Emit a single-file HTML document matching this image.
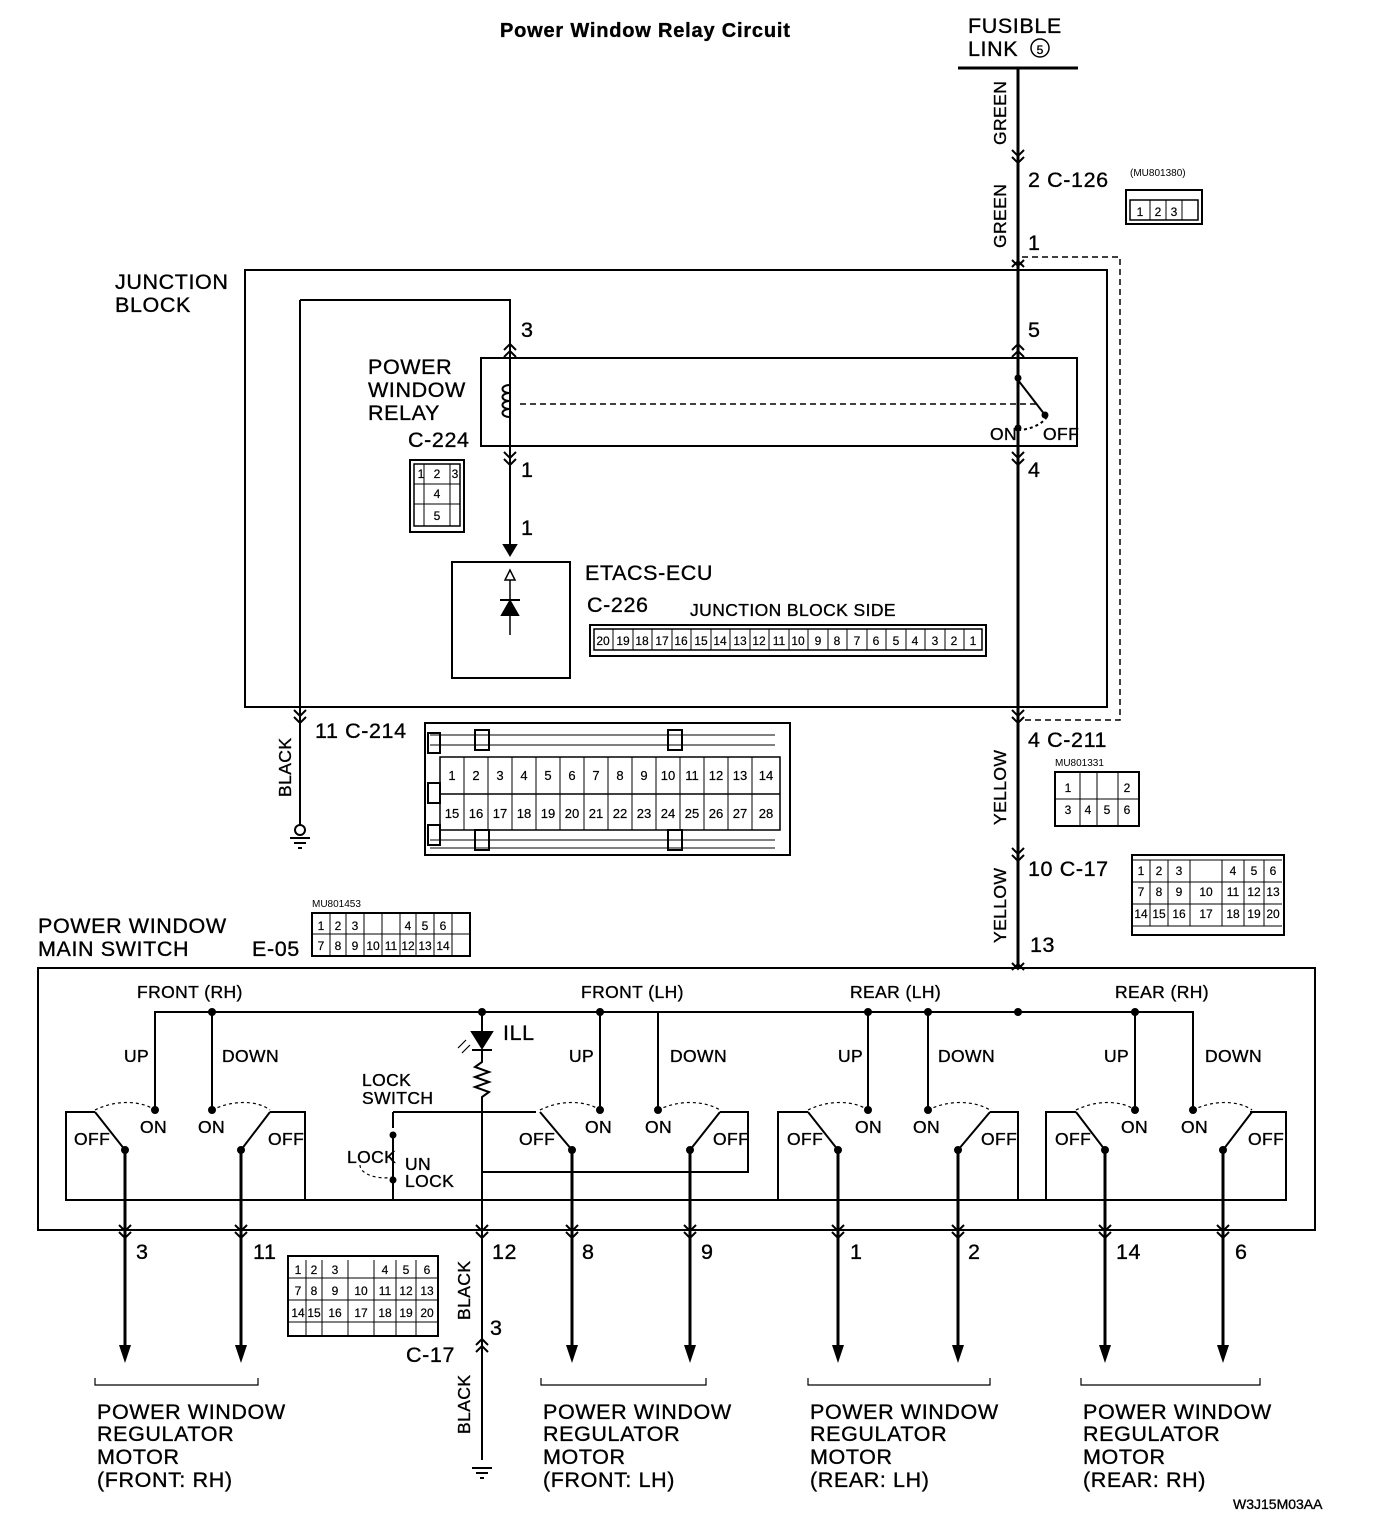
<!DOCTYPE html>
<html><head><meta charset="utf-8"><style>
body{margin:0;background:#fff}
svg{display:block}
text{font-family:"Liberation Sans",sans-serif;fill:#000;stroke:#000;stroke-width:0.35}
.l{font-size:21.5px;letter-spacing:0.6px}
.s{font-size:17.5px;letter-spacing:0.4px}
.xs{font-size:12px}
.c{font-size:12px;text-anchor:middle;stroke-width:0.2}
</style></head><body>
<svg width="1376" height="1536" viewBox="0 0 1376 1536" xmlns="http://www.w3.org/2000/svg">
<g stroke="#000" fill="none" stroke-width="2">
<line x1="958" y1="68" x2="1078" y2="68" stroke-width="3"/>
<circle cx="1040" cy="48" r="9" stroke-width="1.5"/>
<line x1="1018" y1="68" x2="1018" y2="968" stroke-width="3"/>
<path d="M1012 150l6 6 6-6M1012 157l6 6 6-6M1012 260l6 6 6-6M1012 267l6 -6 6 6M1012 350l6-6 6 6M1012 357l6-6 6 6M1012 452l6 6 6-6M1012 459l6 6 6-6M1012 710l6 6 6-6M1012 717l6 6 6-6M1012 848l6 6 6-6M1012 855l6 6 6-6M1012 963l6 6 6-6M1012 970l6 -6 6 6"/>
<path d="M1022 257H1120V720H1022" stroke-dasharray="6 4" stroke-width="1.5"/>
<rect x="245" y="270" width="862" height="437"/>
<path d="M300 300H510V555"/>
<path d="M504 545l6 10 6-10z" fill="#000"/>
<line x1="300" y1="300" x2="300" y2="826"/>
<path d="M504 350l6-6 6 6M504 357l6-6 6 6M504 452l6 6 6-6M504 459l6 6 6-6M294 710l6 6 6-6M294 717l6 6 6-6"/>
<rect x="481" y="358" width="596" height="88"/>
<path d="M510 385c-10 0-10 8 0 8c-10 0-10 8 0 8c-10 0-10 8 0 8c-10 0-10 8 0 8"/>
<line x1="520" y1="404" x2="1040" y2="404" stroke-dasharray="6 4" stroke-width="1.5"/>
<path d="M1018 380L1045 415"/>
<path d="M1018 430c10 0 25-5 30-15" stroke-dasharray="3 3"/>
<circle cx="1018" cy="378" r="2.5" fill="#000"/><circle cx="1045" cy="415" r="2.5" fill="#000"/><circle cx="1018" cy="428" r="2.5" fill="#000"/>
<rect x="452" y="562" width="118" height="116"/>
<path d="M510 570l-5 10h10z" stroke-width="1.5"/>
<line x1="510" y1="580" x2="510" y2="635" stroke-width="1.5"/>
<path d="M502 615h16l-8-14z" fill="#000"/>
<line x1="500" y1="600" x2="520" y2="600"/>
<circle cx="300" cy="830" r="5"/>
<path d="M290 838h20M294 843h12M298 848h4"/>
<rect x="590" y="625" width="396" height="31"/>
<rect x="594" y="629" width="388" height="21" stroke-width="1.5"/>
<rect x="425" y="723" width="365" height="132"/>
<rect x="440" y="757" width="340" height="73" stroke-width="1.5"/>
<path d="M440 794H780" stroke-width="1.5"/>
<path d="M430 735H775M430 745H775M430 840H775M430 848H775" stroke-width="1"/>
<rect x="428" y="733" width="12" height="20"/><rect x="428" y="783" width="12" height="20"/><rect x="428" y="825" width="12" height="20"/>
<rect x="475" y="730" width="14" height="20"/><rect x="668" y="730" width="14" height="20"/><rect x="475" y="830" width="14" height="20"/><rect x="668" y="830" width="14" height="20"/>
<rect x="1126" y="190" width="76" height="34"/><rect x="1130" y="200" width="68" height="20" stroke-width="1.5"/>
<rect x="410" y="460" width="54" height="72"/><rect x="414" y="464" width="46" height="62" stroke-width="1.5"/>
<rect x="1055" y="772" width="84" height="54"/>
<rect x="1132" y="855" width="152" height="80"/>
<rect x="312" y="913" width="158" height="43"/>
<rect x="288" y="1256" width="150" height="80"/>
<rect x="38" y="968" width="1277" height="262"/>
<path d="M155 1110V1012H1193V1110M212 1012V1110M600 1012V1110M658 1012V1110M868 1012V1110M928 1012V1110M1135 1012V1110"/>
<g fill="#000"><circle cx="212" cy="1012" r="3"/><circle cx="482" cy="1012" r="3"/><circle cx="600" cy="1012" r="3"/><circle cx="868" cy="1012" r="3"/><circle cx="928" cy="1012" r="3"/><circle cx="1018" cy="1012" r="3"/><circle cx="1135" cy="1012" r="3"/></g>
<path d="M95 1112H66V1200H1286V1112H1250M270 1112H305V1200M482 1112H536M720 1112H748V1172H482M808 1112H778V1200M990 1112H1018V1200M1076 1112H1046V1200M1250 1112H1286"/>
<g>
<path d="M125 1150L95 1112M241 1150L270 1112M572 1150L540 1112M690 1150L720 1112M838 1150L808 1112M958 1150L990 1112M1105 1150L1076 1112M1223 1150L1252 1112"/>
<path d="M95 1110c20-10 45-10 60 0M212 1110c20-10 45-10 58 0M540 1110c20-10 45-10 60 0M658 1110c20-10 45-10 62 0M808 1110c20-10 45-10 60 0M928 1110c20-10 45-10 62 0M1076 1110c20-10 45-10 59 0M1193 1110c20-10 45-10 59 0" stroke-dasharray="3 3" stroke-width="1.2"/>
</g>
<g fill="#000"><circle cx="155" cy="1110" r="3"/><circle cx="212" cy="1110" r="3"/><circle cx="600" cy="1110" r="3"/><circle cx="658" cy="1110" r="3"/><circle cx="868" cy="1110" r="3"/><circle cx="928" cy="1110" r="3"/><circle cx="1135" cy="1110" r="3"/><circle cx="1193" cy="1110" r="3"/>
<circle cx="125" cy="1150" r="3"/><circle cx="241" cy="1150" r="3"/><circle cx="572" cy="1150" r="3"/><circle cx="690" cy="1150" r="3"/><circle cx="838" cy="1150" r="3"/><circle cx="958" cy="1150" r="3"/><circle cx="1105" cy="1150" r="3"/><circle cx="1223" cy="1150" r="3"/></g>
<path d="M125 1150V1350M241 1150V1350M572 1150V1350M690 1150V1350M838 1150V1350M958 1150V1350M1105 1150V1350M1223 1150V1350" stroke-width="3"/>
<g fill="#000" stroke="none"><path d="M119 1345l6 18 6-18zM235 1345l6 18 6-18zM566 1345l6 18 6-18zM684 1345l6 18 6-18zM832 1345l6 18 6-18zM952 1345l6 18 6-18zM1099 1345l6 18 6-18zM1217 1345l6 18 6-18z"/></g>
<path d="M119 1225l6 6 6-6M119 1232l6 6 6-6M235 1225l6 6 6-6M235 1232l6 6 6-6M566 1225l6 6 6-6M566 1232l6 6 6-6M684 1225l6 6 6-6M684 1232l6 6 6-6M832 1225l6 6 6-6M832 1232l6 6 6-6M952 1225l6 6 6-6M952 1232l6 6 6-6M1099 1225l6 6 6-6M1099 1232l6 6 6-6M1217 1225l6 6 6-6M1217 1232l6 6 6-6M476 1225l6 6 6-6M476 1232l6 6 6-6M476 1345l6-6 6 6M476 1352l6-6 6 6"/>
<path d="M482 1012V1032M482 1050V1062l-7 5 14 5-14 5 14 5-14 5 14 5-7 5V1460"/>
<path d="M472 1032h20l-10 16z" fill="#000"/><line x1="472" y1="1050" x2="492" y2="1050"/>
<path d="M470 1045l-8 8M466 1040l-8 8" stroke-width="1.2"/>
<path d="M393 1112H482M393 1112V1128M393 1170V1200"/>
<path d="M393 1180L393 1135" stroke-width="2"/>
<path d="M360 1165c0 10 20 15 33 12" stroke-dasharray="3 3" stroke-width="1.2"/>
<circle cx="393" cy="1135" r="2.5" fill="#000"/><circle cx="393" cy="1180" r="2.5" fill="#000"/>
<path d="M472 1468h20M476 1473h12M480 1478h4"/>
<path d="M95 1378v7H258v-7M541 1378v7H706v-7M808 1378v7H990v-7M1081 1378v7H1260v-7" stroke-width="1.2"/>
</g>
<g stroke="#000" stroke-width="1" fill="none">
<path d="M613 629v21M633 629v21M652 629v21M672 629v21M691 629v21M711 629v21M730 629v21M750 629v21M769 629v21M789 629v21M808 629v21M828 629v21M847 629v21M867 629v21M886 629v21M906 629v21M925 629v21M945 629v21M964 629v21"/>
<path d="M464 757v73M488 757v73M512 757v73M536 757v73M560 757v73M584 757v73M608 757v73M632 757v73M656 757v73M680 757v73M704 757v73M728 757v73M752 757v73"/>
<path d="M1150 200v20M1166 200v20M1182 200v20M414 484h46M414 504h46M424 464v62M450 464v62"/>
<path d="M1055 799h84M1080 772v54M1097 772v54M1118 772v54M1132 860h150M1132 882h150M1132 904h150M1132 926h150M1150 860v66M1168 860v66M1190 860v66M1222 860v66M1244 860v66M1264 860v66"/>
<path d="M312 934h158M330 913v43M346 913v43M364 913v43M382 913v43M400 913v43M416 913v43M434 913v43M452 913v43"/>
<path d="M288 1278h150M288 1300h150M288 1322h150M306 1260v76M322 1260v76M348 1260v76M374 1260v76M396 1260v76M416 1260v76"/>
</g>
<text x="500" y="37" style="font-size:20px;font-weight:bold;letter-spacing:0.8px">Power Window Relay Circuit</text>
<text x="968" y="33" class="l">FUSIBLE</text>
<text x="968" y="56" class="l">LINK</text>
<text x="1040" y="54" class="xs" text-anchor="middle">5</text>
<text transform="translate(1006,145) rotate(-90)" class="s">GREEN</text>
<text transform="translate(1006,248) rotate(-90)" class="s">GREEN</text>
<text x="1028" y="187" class="l">2  C-126</text>
<text x="1130" y="176" style="font-size:10px;stroke-width:0">(MU801380)</text>
<text x="1140" y="216" class="c">1</text><text x="1158" y="216" class="c">2</text><text x="1174" y="216" class="c">3</text>
<text x="1028" y="250" class="l">1</text>
<text x="115" y="289" class="l">JUNCTION</text><text x="115" y="312" class="l">BLOCK</text>
<text x="521" y="337" class="l">3</text><text x="1028" y="337" class="l">5</text>
<text x="368" y="374" class="l">POWER</text><text x="368" y="397" class="l">WINDOW</text><text x="368" y="420" class="l">RELAY</text>
<text x="408" y="447" class="l">C-224</text>
<text x="990" y="440" class="s">ON</text><text x="1043" y="440" class="s">OFF</text>
<text x="421" y="478" class="c">1</text><text x="437" y="478" class="c">2</text><text x="455" y="478" class="c">3</text>
<text x="437" y="498" class="c">4</text><text x="437" y="520" class="c">5</text>
<text x="521" y="477" class="l">1</text><text x="1028" y="477" class="l">4</text><text x="521" y="535" class="l">1</text>
<text x="585" y="580" class="l">ETACS-ECU</text>
<text x="587" y="612" class="l">C-226</text>
<text x="690" y="616" class="s">JUNCTION BLOCK SIDE</text>
<text y="645" class="c"><tspan x="603">20</tspan><tspan x="623">19</tspan><tspan x="642">18</tspan><tspan x="662">17</tspan><tspan x="681">16</tspan><tspan x="701">15</tspan><tspan x="720">14</tspan><tspan x="740">13</tspan><tspan x="759">12</tspan><tspan x="779">11</tspan><tspan x="798">10</tspan><tspan x="818">9</tspan><tspan x="837">8</tspan><tspan x="857">7</tspan><tspan x="876">6</tspan><tspan x="896">5</tspan><tspan x="915">4</tspan><tspan x="935">3</tspan><tspan x="954">2</tspan><tspan x="973">1</tspan></text>
<text x="315" y="738" class="l">11  C-214</text>
<text transform="translate(291,797) rotate(-90)" class="s">BLACK</text>
<text y="780" class="c" style="font-size:13px"><tspan x="452">1</tspan><tspan x="476">2</tspan><tspan x="500">3</tspan><tspan x="524">4</tspan><tspan x="548">5</tspan><tspan x="572">6</tspan><tspan x="596">7</tspan><tspan x="620">8</tspan><tspan x="644">9</tspan><tspan x="668">10</tspan><tspan x="692">11</tspan><tspan x="716">12</tspan><tspan x="740">13</tspan><tspan x="766">14</tspan></text>
<text y="818" class="c" style="font-size:13px"><tspan x="452">15</tspan><tspan x="476">16</tspan><tspan x="500">17</tspan><tspan x="524">18</tspan><tspan x="548">19</tspan><tspan x="572">20</tspan><tspan x="596">21</tspan><tspan x="620">22</tspan><tspan x="644">23</tspan><tspan x="668">24</tspan><tspan x="692">25</tspan><tspan x="716">26</tspan><tspan x="740">27</tspan><tspan x="766">28</tspan></text>
<text x="1028" y="747" class="l">4  C-211</text>
<text x="1055" y="766" style="font-size:10px;stroke-width:0">MU801331</text>
<text y="792" class="c"><tspan x="1068">1</tspan><tspan x="1127">2</tspan></text>
<text y="814" class="c"><tspan x="1068">3</tspan><tspan x="1088">4</tspan><tspan x="1107">5</tspan><tspan x="1127">6</tspan></text>
<text transform="translate(1006,825) rotate(-90)" class="s">YELLOW</text>
<text transform="translate(1006,943) rotate(-90)" class="s">YELLOW</text>
<text x="1028" y="876" class="l">10  C-17</text>
<text y="875" class="c"><tspan x="1141">1</tspan><tspan x="1159">2</tspan><tspan x="1179">3</tspan><tspan x="1233">4</tspan><tspan x="1254">5</tspan><tspan x="1273">6</tspan></text>
<text y="896" class="c"><tspan x="1141">7</tspan><tspan x="1159">8</tspan><tspan x="1179">9</tspan><tspan x="1206">10</tspan><tspan x="1233">11</tspan><tspan x="1254">12</tspan><tspan x="1273">13</tspan></text>
<text y="918" class="c"><tspan x="1141">14</tspan><tspan x="1159">15</tspan><tspan x="1179">16</tspan><tspan x="1206">17</tspan><tspan x="1233">18</tspan><tspan x="1254">19</tspan><tspan x="1273">20</tspan></text>
<text x="1030" y="952" class="l">13</text>
<text x="38" y="933" class="l">POWER WINDOW</text><text x="38" y="956" class="l">MAIN SWITCH</text>
<text x="252" y="956" class="l">E-05</text>
<text x="312" y="907" style="font-size:10px;stroke-width:0">MU801453</text>
<text y="930" class="c"><tspan x="321">1</tspan><tspan x="338">2</tspan><tspan x="355">3</tspan><tspan x="408">4</tspan><tspan x="425">5</tspan><tspan x="443">6</tspan></text>
<text y="950" class="c"><tspan x="321">7</tspan><tspan x="338">8</tspan><tspan x="355">9</tspan><tspan x="373">10</tspan><tspan x="391">11</tspan><tspan x="408">12</tspan><tspan x="425">13</tspan><tspan x="443">14</tspan></text>
<text x="137" y="998" class="s">FRONT (RH)</text><text x="581" y="998" class="s">FRONT (LH)</text>
<text x="850" y="998" class="s">REAR (LH)</text><text x="1115" y="998" class="s">REAR (RH)</text>
<text y="1062" class="s"><tspan x="124">UP</tspan><tspan x="222">DOWN</tspan><tspan x="569">UP</tspan><tspan x="670">DOWN</tspan><tspan x="838">UP</tspan><tspan x="938">DOWN</tspan><tspan x="1104">UP</tspan><tspan x="1205">DOWN</tspan></text>
<text x="503" y="1040" class="l">ILL</text>
<text x="362" y="1086" class="s">LOCK</text><text x="362" y="1104" class="s">SWITCH</text>
<text x="347" y="1163" class="s">LOCK</text><text x="405" y="1170" class="s">UN</text><text x="405" y="1187" class="s">LOCK</text>
<text y="1133" class="s"><tspan x="140">ON</tspan><tspan x="198">ON</tspan><tspan x="585">ON</tspan><tspan x="645">ON</tspan><tspan x="855">ON</tspan><tspan x="913">ON</tspan><tspan x="1121">ON</tspan><tspan x="1181">ON</tspan></text>
<text y="1145" class="s"><tspan x="74">OFF</tspan><tspan x="268">OFF</tspan><tspan x="519">OFF</tspan><tspan x="713">OFF</tspan><tspan x="787">OFF</tspan><tspan x="981">OFF</tspan><tspan x="1055">OFF</tspan><tspan x="1248">OFF</tspan></text>
<text y="1259" class="l"><tspan x="136">3</tspan><tspan x="253">11</tspan><tspan x="492">12</tspan><tspan x="582">8</tspan><tspan x="701">9</tspan><tspan x="850">1</tspan><tspan x="968">2</tspan><tspan x="1116">14</tspan><tspan x="1235">6</tspan></text>
<text y="1274" class="c"><tspan x="298">1</tspan><tspan x="314">2</tspan><tspan x="335">3</tspan><tspan x="385">4</tspan><tspan x="406">5</tspan><tspan x="427">6</tspan></text>
<text y="1295" class="c"><tspan x="298">7</tspan><tspan x="314">8</tspan><tspan x="335">9</tspan><tspan x="361">10</tspan><tspan x="385">11</tspan><tspan x="406">12</tspan><tspan x="427">13</tspan></text>
<text y="1317" class="c"><tspan x="298">14</tspan><tspan x="314">15</tspan><tspan x="335">16</tspan><tspan x="361">17</tspan><tspan x="385">18</tspan><tspan x="406">19</tspan><tspan x="427">20</tspan></text>
<text transform="translate(470,1320) rotate(-90)" class="s">BLACK</text>
<text transform="translate(470,1434) rotate(-90)" class="s">BLACK</text>
<text x="490" y="1335" class="l">3</text><text x="406" y="1362" class="l">C-17</text>
<text x="97" y="1419" class="l">POWER WINDOW</text><text x="97" y="1441" class="l">REGULATOR</text><text x="97" y="1464" class="l">MOTOR</text><text x="97" y="1487" class="l">(FRONT: RH)</text>
<text x="543" y="1419" class="l">POWER WINDOW</text><text x="543" y="1441" class="l">REGULATOR</text><text x="543" y="1464" class="l">MOTOR</text><text x="543" y="1487" class="l">(FRONT: LH)</text>
<text x="810" y="1419" class="l">POWER WINDOW</text><text x="810" y="1441" class="l">REGULATOR</text><text x="810" y="1464" class="l">MOTOR</text><text x="810" y="1487" class="l">(REAR: LH)</text>
<text x="1083" y="1419" class="l">POWER WINDOW</text><text x="1083" y="1441" class="l">REGULATOR</text><text x="1083" y="1464" class="l">MOTOR</text><text x="1083" y="1487" class="l">(REAR: RH)</text>
<text x="1233" y="1509" style="font-size:14px">W3J15M03AA</text>
</svg>
</body></html>
